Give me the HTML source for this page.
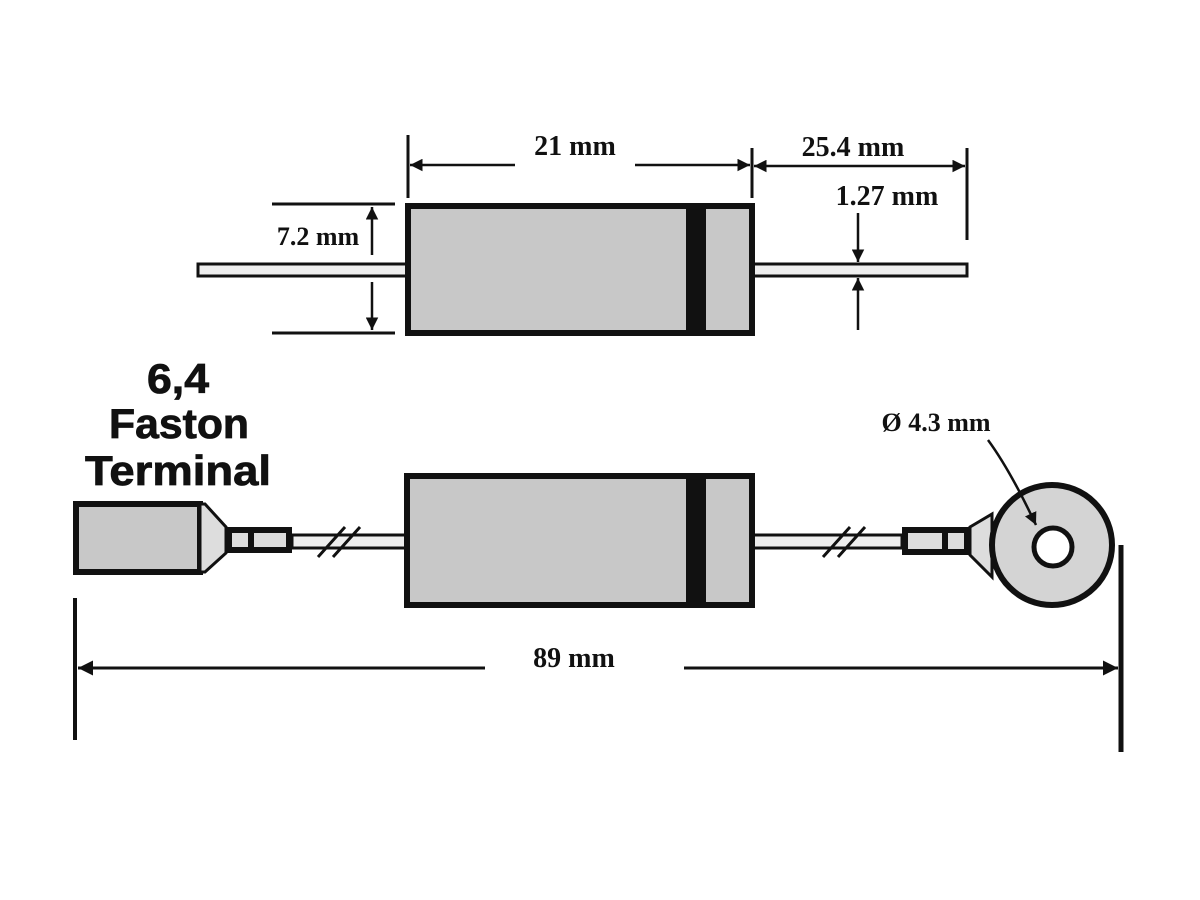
<!DOCTYPE html>
<html><head><meta charset="utf-8"><style>
html,body{margin:0;padding:0;background:#fff;}
svg{display:block;}
.s{font-family:"Liberation Serif",serif;font-weight:bold;fill:#111;}
.f{font-family:"Liberation Sans",sans-serif;font-weight:bold;fill:#111;}
</style></head><body>
<svg width="1200" height="900" viewBox="0 0 1200 900" xmlns="http://www.w3.org/2000/svg">
<defs>
<marker id="a" viewBox="0 0 10 10" refX="10" refY="5" markerWidth="5" markerHeight="5" orient="auto-start-reverse"><path d="M0,0 L10,5 L0,10 z" fill="#111"/></marker>
</defs>
<rect width="1200" height="900" fill="#fff"/>
<g stroke="#111" fill="none">
<rect x="198" y="264" width="210" height="12" fill="#eee" stroke-width="3"/>
<rect x="752" y="264" width="215" height="12" fill="#eee" stroke-width="3"/>
<rect x="408" y="206" width="344" height="127" fill="#c8c8c8" stroke-width="6"/>
<rect x="686" y="206" width="20" height="127" fill="#111" stroke="none"/>
<line x1="408" y1="135" x2="408" y2="198" stroke-width="3"/>
<line x1="752" y1="148" x2="752" y2="198" stroke-width="3"/>
<line x1="967" y1="148" x2="967" y2="240" stroke-width="3"/>
<line x1="410" y1="165" x2="515" y2="165" stroke-width="2.5" marker-start="url(#a)"/>
<line x1="635" y1="165" x2="750" y2="165" stroke-width="2.5" marker-end="url(#a)"/>
<line x1="754" y1="166" x2="965" y2="166" stroke-width="2.5" marker-start="url(#a)" marker-end="url(#a)"/>
<line x1="272" y1="204" x2="395" y2="204" stroke-width="3"/>
<line x1="272" y1="333" x2="395" y2="333" stroke-width="3"/>
<line x1="372" y1="255" x2="372" y2="207" stroke-width="2.5" marker-end="url(#a)"/>
<line x1="372" y1="282" x2="372" y2="330" stroke-width="2.5" marker-end="url(#a)"/>
<line x1="858" y1="213" x2="858" y2="262" stroke-width="2.5" marker-end="url(#a)"/>
<line x1="858" y1="330" x2="858" y2="278" stroke-width="2.5" marker-end="url(#a)"/>
<rect x="292" y="535" width="115" height="13" fill="#eee" stroke-width="3"/>
<rect x="752" y="535" width="150" height="13" fill="#eee" stroke-width="3"/>
<line x1="318" y1="557" x2="345" y2="527" stroke-width="3"/>
<line x1="333" y1="557" x2="360" y2="527" stroke-width="3"/>
<line x1="823" y1="557" x2="850" y2="527" stroke-width="3"/>
<line x1="838" y1="557" x2="865" y2="527" stroke-width="3"/>
<rect x="407" y="476" width="345" height="129" fill="#c8c8c8" stroke-width="6"/>
<rect x="686" y="476" width="20" height="129" fill="#111" stroke="none"/>
<rect x="76" y="504" width="124" height="68" fill="#c8c8c8" stroke-width="6"/>
<path d="M200,504 L205,504 L226,527 L226,553 L205,572 L200,572 z" fill="#ddd" stroke-width="3"/>
<rect x="226" y="527" width="66" height="26" fill="#111" stroke="none"/>
<rect x="232" y="533" width="16" height="14" fill="#ddd" stroke="none"/>
<rect x="254" y="533" width="32" height="14" fill="#ddd" stroke="none"/>
<path d="M970,527 L992,514 L992,577 L970,555 z" fill="#ddd" stroke-width="3"/>
<rect x="902" y="527" width="68" height="28" fill="#111" stroke="none"/>
<rect x="908" y="533" width="34" height="16" fill="#ddd" stroke="none"/>
<rect x="948" y="533" width="16" height="16" fill="#ddd" stroke="none"/>
<circle cx="1052" cy="545" r="60" fill="#d4d4d4" stroke-width="6"/>
<circle cx="1053" cy="547" r="19" fill="#fff" stroke-width="5"/>
<path d="M988,440 Q1010,470 1036,525" stroke-width="2.5" marker-end="url(#a)"/>
<line x1="75" y1="598" x2="75" y2="740" stroke-width="4"/>
<line x1="1121" y1="545" x2="1121" y2="752" stroke-width="5"/>
<line x1="78" y1="668" x2="485" y2="668" stroke-width="3" marker-start="url(#a)"/>
<line x1="684" y1="668" x2="1118" y2="668" stroke-width="3" marker-end="url(#a)"/>
</g>
<text class="s" x="575" y="155" font-size="28" text-anchor="middle">21 mm</text>
<text class="s" x="853" y="156" font-size="28" text-anchor="middle">25.4 mm</text>
<text class="s" x="887" y="205" font-size="28" text-anchor="middle">1.27 mm</text>
<text class="s" x="318" y="245" font-size="26" text-anchor="middle">7.2 mm</text>
<text class="s" x="936" y="431" font-size="26" text-anchor="middle">Ø 4.3 mm</text>
<text class="s" x="574" y="667" font-size="28" text-anchor="middle">89 mm</text>
<text class="f" x="147" y="393" font-size="42" textLength="62" lengthAdjust="spacingAndGlyphs" stroke="#111" stroke-width="0.8">6,4</text>
<text class="f" x="109" y="438" font-size="42" textLength="140" lengthAdjust="spacingAndGlyphs" stroke="#111" stroke-width="0.8">Faston</text>
<text class="f" x="85" y="485" font-size="42" textLength="186" lengthAdjust="spacingAndGlyphs" stroke="#111" stroke-width="0.8">Terminal</text>
</svg>
</body></html>
